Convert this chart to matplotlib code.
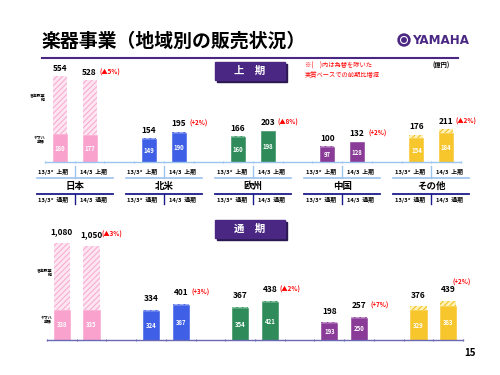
import matplotlib
matplotlib.use('Agg')
import matplotlib.pyplot as plt
import matplotlib.transforms as mtransforms
from matplotlib.patches import Rectangle, Ellipse
from matplotlib.lines import Line2D

plt.rcParams['font.family'] = ['Noto Sans CJK JP', 'DejaVu Sans']
plt.rcParams['hatch.linewidth'] = 0.7

regions = ['日本', '北米', '欧州', '中国', 'その他']

# 上期 (first half), 億円
h1_prev_total = [554, 154, 166, 100, 176]
h1_prev_inst = [180, 149, 160, 97, 154]
h1_curr_total = [528, 195, 203, 132, 211]
h1_curr_inst = [177, 190, 198, 128, 184]
h1_change = ['(▲5%)', '(+2%)', '(▲8%)', '(+2%)', '(▲2%)']

# 通期 (full year), 億円
fy_prev_total = [1080, 334, 367, 198, 376]
fy_prev_inst = [338, 324, 354, 193, 329]
fy_curr_total = [1050, 401, 438, 257, 439]
fy_curr_inst = [335, 387, 421, 250, 383]
fy_change = ['(▲3%)', '(+3%)', '(▲2%)', '(+7%)', '(+2%)']

solid_colors = ['#f8a2cd', '#3f5fe6', '#2f8c5a', '#8a3b98', '#f7c62c']
top_faces = ['#fde6f1', '#9fb0f5', '#8cc9a6', '#c79ad0', '#fff1b5']
top_hatch = ['#f7a6cf', '#3f5fe6', '#2f8c5a', '#8a3b98', '#f0bc10']

PURPLE = '#4a2783'
W, H = 500, 375


def fx(px):
    return px / W


def fy(px):
    return 1 - px / H


fig = plt.figure(figsize=(5, 3.75), dpi=100)
fig.patch.set_facecolor('white')

# header
fig.text(fx(42), fy(41), '楽器事業（地域別の販売状況）', fontsize=13.6, fontweight='bold',
         ha='left', va='center')
fig.add_artist(Line2D([fx(42), fx(458)], [fy(58), fy(58)], color=PURPLE, lw=1.5))
fig.add_artist(Ellipse((fx(404), fy(40)), 12 / W, 12 / H, color=PURPLE))
fig.add_artist(Ellipse((fx(404), fy(40)), 7 / W, 7 / H, facecolor='none', edgecolor='white', lw=0.8))
fig.text(fx(412), fy(40), 'YAMAHA', fontsize=9.5, fontweight='bold', color=PURPLE,
         ha='left', va='center', family='DejaVu Sans', stretch='condensed')

fig.text(fx(305), fy(66), '※(　)内は為替を除いた', fontsize=4.5, color='red', va='center')
fig.text(fx(305), fy(75), '実質ベースでの前期比増減', fontsize=4.5, color='red', va='center')
fig.text(fx(441), fy(65), '(億円)', fontsize=4.5, fontweight='bold', ha='center', va='center')
fig.text(fx(470), fy(353), '15', fontsize=7, fontweight='bold', ha='center', va='center')


def section_box(y_top, label):
    fig.add_artist(Rectangle((fx(217), fy(y_top + 20)), 70 / W, 18 / H, color='#2a1850'))
    fig.add_artist(Rectangle((fx(215), fy(y_top + 18)), 70 / W, 18 / H, color=PURPLE))
    fig.text(fx(250), fy(y_top + 9), label, fontsize=7.5, fontweight='bold', color='white',
             ha='center', va='center')


section_box(62, '上　期')
section_box(220, '通　期')


def draw_panel(ax, prev_total, prev_inst, curr_total, curr_inst, changes, width,
               label_off, axis_color, fmt, left_px, y_school, y_inst, last_lift=0):
    for g in range(len(regions)):
        for k, (tot, inst) in enumerate([(prev_total[g], prev_inst[g]),
                                         (curr_total[g], curr_inst[g])]):
            x = 3 * g + 0.5 + k
            ax.bar(x, inst, width, color=solid_colors[g], edgecolor=solid_colors[g], lw=0.4)
            ax.bar(x, tot - inst, width, bottom=inst, color=top_faces[g],
                   edgecolor=top_hatch[g], hatch='//////', lw=0)
            ax.text(x, inst / 2, str(inst), color='white', fontsize=4.3, fontweight='bold',
                    ha='center', va='center')
            ax.annotate(fmt(tot), (x, tot), xytext=(0, label_off), textcoords='offset points',
                        ha='center', va='center', fontsize=6, fontweight='bold')
            if k == 1:
                dx, dy = 14.5, 0
                if g == len(regions) - 1 and last_lift:
                    dx, dy = 10, last_lift
                ax.annotate(changes[g], (x, tot), xytext=(dx, label_off + dy),
                            textcoords='offset points', ha='center', va='center',
                            fontsize=4.5, fontweight='bold', color='red')
    ax.set_xlim(0, 14)
    for s in ['top', 'left', 'right']:
        ax.spines[s].set_visible(False)
    ax.spines['bottom'].set_color(axis_color)
    ax.spines['bottom'].set_linewidth(1.0)
    ax.set_xticks(range(15))
    ax.tick_params(axis='x', colors=axis_color, length=2, width=0.8, direction='inout',
                   labelbottom=False)
    ax.set_yticks([])
    ax.patch.set_alpha(0)
    fig.text(fx(left_px), fy(y_school), '音楽教室\n他', fontsize=2.8, fontweight='bold',
             ha='right', va='center', linespacing=1.0)
    fig.text(fx(left_px), fy(y_inst), 'ヤマハ\n楽器', fontsize=2.8, fontweight='bold',
             ha='right', va='center', linespacing=1.0)


ax1 = fig.add_axes([fx(45), fy(162), 416 / W, 600 * 0.155 / H])
ax1.set_ylim(0, 600)
draw_panel(ax1, h1_prev_total, h1_prev_inst, h1_curr_total, h1_curr_inst, h1_change,
           0.47, 5.8, '#9cc4ee', str, 45, 98, 140)

ax2 = fig.add_axes([fx(47), fy(340), 416 / W, 1200 * 0.0898 / H])
ax2.set_ylim(0, 1200)
draw_panel(ax2, fy_prev_total, fy_prev_inst, fy_curr_total, fy_curr_inst, fy_change,
           0.55, 8.0, '#6a6ab4', lambda v: f'{v:,}', 52, 273, 320, last_lift=5.4)

# period / region labels between the two panels
tr = mtransforms.blended_transform_factory(ax1.transData, fig.transFigure)
for g, name in enumerate(regions):
    gc = 3 * g + 1
    fig.add_artist(Line2D([gc - 1.28, gc + 1.28], [fy(178), fy(178)], transform=tr,
                          color='#9cc4ee', lw=1.2))
    fig.add_artist(Line2D([gc, gc], [fy(166), fy(178)], transform=tr, color='#9cc4ee', lw=1.0))
    fig.text(gc - 0.72, fy(172), '13/3*  上期', transform=tr, fontsize=4.2, fontweight='bold',
             ha='center', va='center')
    fig.text(gc + 0.62, fy(172), '14/3  上期', transform=tr, fontsize=4.2, fontweight='bold',
             ha='center', va='center')
    fig.text(gc, fy(186), name, transform=tr, fontsize=6.8, fontweight='bold',
             ha='center', va='center')
    fig.add_artist(Line2D([gc - 1.28, gc + 1.28], [fy(194), fy(194)], transform=tr,
                          color='#1c1c8a', lw=1.3))
    fig.add_artist(Line2D([gc, gc], [fy(194), fy(204)], transform=tr, color='#1c1c8a', lw=1.0))
    fig.text(gc - 0.72, fy(200), '13/3*  通期', transform=tr, fontsize=4.2, fontweight='bold',
             ha='center', va='center')
    fig.text(gc + 0.62, fy(200), '14/3  通期', transform=tr, fontsize=4.2, fontweight='bold',
             ha='center', va='center')

fig.savefig('out.png', dpi=100)
